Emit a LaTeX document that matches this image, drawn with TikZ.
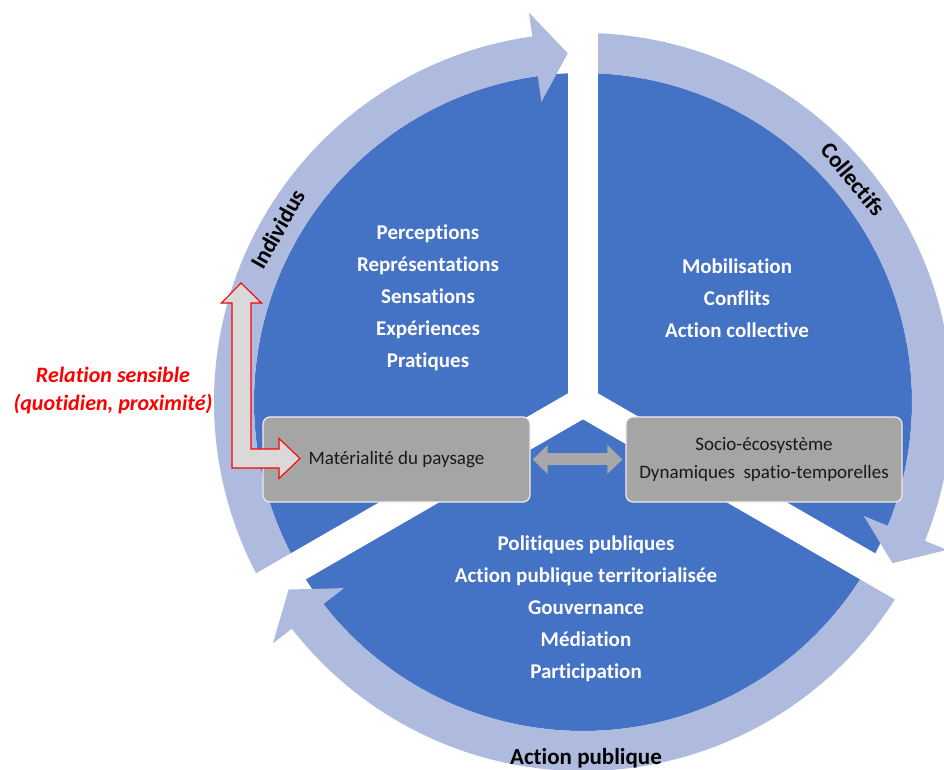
\documentclass[tikz,border=0pt]{standalone}
\usepackage{fontspec}
\setmainfont{Carlito}[Ligatures={NoCommon}]
\usetikzlibrary{arrows.meta,calc}
\definecolor{pieblue}{RGB}{68,114,196}
\definecolor{ringblue}{RGB}{174,186,222}
\definecolor{boxgray}{RGB}{165,165,165}
\definecolor{arrowgray}{RGB}{168,168,168}
\definecolor{elbowfill}{RGB}{217,217,217}
\definecolor{relred}{RGB}{255,0,0}
\newcommand\ringarrowpath[2]{%
  \fill[ringblue] (#1:369pt) arc[start angle=#1, end angle=#2+5.4, radius=369pt]
    -- (#2+5.4:393pt) -- (#2:349pt) -- (#2+5.4:303pt) -- (#2+5.4:329pt)
    arc[start angle=#2+5.4, end angle=#1, radius=329pt] -- cycle;}
\begin{document}
\begin{tikzpicture}[x=1pt,y=1pt,
  gapline/.style={draw=white, line width=30pt, line cap=round},
  sectortext/.style={text=white, font=\bfseries\fontsize{21}{32}\selectfont, align=center, inner sep=0pt},
  ringlabel/.style={text=black, font=\bfseries\fontsize{23}{28}\selectfont, inner sep=0pt},
  graybox/.style={fill=boxgray, draw=white!80!boxgray, line width=1.2pt, rounded corners=7pt, inner sep=0pt,
    font=\fontsize{19}{28}\selectfont, align=center, text=black!90},
  redtext/.style={text=relred, font=\bfseries\itshape\fontsize{22}{28}\selectfont, align=center, inner sep=0pt},
]
\useasboundingbox (-583,-368) rectangle (361,402);
\clip (-583,-368) rectangle (361,402);
\fill[white] (-583,-368) rectangle (361,402);
% pie
\fill[pieblue] (0,0) circle[radius=329pt];
% ring arrows (clockwise)
\ringarrowpath{210}{92.5}
\ringarrowpath{90}{-27.5}
\ringarrowpath{330}{212.5}
% white gaps
\coordinate (c) at (0,0);
\coordinate (g1) at (90:420pt);
\coordinate (g2) at (210:420pt);
\coordinate (g3) at (330:420pt);
\draw[gapline] (c) -- (g1);
\draw[gapline] (c) -- (g2);
\draw[gapline] (c) -- (g3);
% ring labels
\node[ringlabel, rotate=60.5] (ind) at (150.5:351pt) {Individus};
\node[ringlabel, rotate=-50.5] (col) at (39.5:350pt) {Collectifs};
\node[ringlabel] (act) at (3,-356) {Action publique};
% sector texts
\node[sectortext] (tl) at (-155,104) {Perceptions\\Représentations\\Sensations\\Expériences\\Pratiques};
\node[sectortext] (tr) at (154,104) {Mobilisation\\Conflits\\Action collective};
\node[sectortext] (bt) at (3,-207) {Politiques publiques\\Action publique territorialisée\\Gouvernance\\Médiation\\Participation};
% boxes
\node[graybox, minimum width=267pt, minimum height=85pt] (mat) at (-186.5,-57.5) {Matérialité du paysage};
\node[graybox, minimum width=276pt, minimum height=85pt] (soc) at (181,-57.5) {Socio-écosystème\\Dynamiques\hspace{0.45em}spatio-temporelles};
% double arrow between boxes
\draw[line width=12pt, draw=arrowgray, {Triangle[width=28pt,length=15pt]}-{Triangle[width=28pt,length=15pt]},
  shorten <=2pt, shorten >=3pt] (mat.east) -- (soc.west);
% elbow arrow
\draw[fill=elbowfill, draw=relred, line width=1.1pt, line join=miter]
  (-342,119) -- (-321.5,99) -- (-332,99) -- (-332,-47) -- (-304,-47) -- (-304,-36.5)
  -- (-283,-56.5) -- (-304,-76.5) -- (-304,-66) -- (-351,-66) -- (-351,99) -- (-361.5,99) -- cycle;
% red text
\node[redtext] (rel) at (-470,11) {Relation sensible\\(quotidien, proximité)};
\end{tikzpicture}
\end{document}
